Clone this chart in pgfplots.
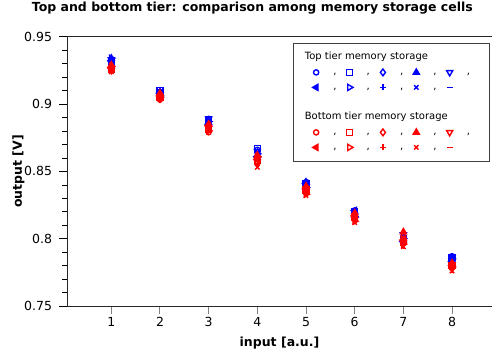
\documentclass[border=0pt]{standalone}
\usepackage{pgfplots}
\pgfplotsset{compat=1.18}
\usepackage{fontspec}
\setmainfont{DejaVu Sans}
\tikzset{
 s1/.style={color=#1, draw=#1, fill=#1, mark=o, mark size=2.6pt, line width=1.3pt, mark options={solid}},
 s2/.style={color=#1, draw=#1, fill=#1, mark=square, mark size=3.1pt, line width=1.3pt, mark options={solid}},
 s3/.style={color=#1, draw=#1, fill=#1, mark=diamond, mark size=3.4pt, line width=1.3pt, mark options={solid}},
 s4/.style={color=#1, draw=#1, fill=#1, mark=triangle*, mark size=3.5pt, line width=1.3pt, mark options={solid}},
 s5/.style={color=#1, draw=#1, fill=#1, mark=triangle, mark size=3.5pt, line width=1.3pt, mark options={solid, rotate=180}},
 s6/.style={color=#1, draw=#1, fill=#1, mark=triangle*, mark size=3.5pt, line width=1.3pt, mark options={solid, rotate=90}},
 s7/.style={color=#1, draw=#1, fill=#1, mark=triangle, mark size=3.5pt, line width=1.3pt, mark options={solid, rotate=-90}},
 s8/.style={color=#1, draw=#1, fill=#1, mark=+, mark size=3.1pt, line width=1.4pt, mark options={solid}},
 s9/.style={color=#1, draw=#1, fill=#1, mark=x, mark size=3.1pt, line width=1.4pt, mark options={solid}},
 s10/.style={color=#1, draw=#1, fill=#1, mark=-, mark size=3.1pt, line width=1.5pt, mark options={solid}},
}
\begin{document}
\begin{tikzpicture}
\begin{axis}[
  scale only axis, width=424pt, height=269.3pt,
  xmin=0.1, xmax=8.81, ymin=0.75, ymax=0.95,
  axis x line*=bottom, axis y line*=left,
  xtick={1,2,3,4,5,6,7,8},
  ytick={0.75,0.8,0.85,0.9,0.95},
  minor y tick num=4,
  tick align=outside,
  major tick length=8pt, minor tick length=5pt,
  xtick style={color=black!50, line width=1pt},
  ytick style={black, line width=0.6pt},
  axis line style={line width=0.8pt, black!85},
  /pgf/number format/assume math mode=true,
  ticklabel style={font=\fontsize{12.5}{15}\selectfont},
  yticklabel style={xshift=-4pt},
  title={Top and bottom tier: comparison among memory storage cells},
  title style={at={(axis description cs:0.436,1)}, anchor=center, yshift=22.7pt, font=\bfseries\fontsize{12.5}{15}\selectfont},
  xlabel={input [a.u.]},
  xlabel style={at={(axis description cs:0.5,0)}, anchor=center, yshift=-37pt, font=\bfseries\fontsize{12.5}{15}\selectfont},
  ylabel={output [V]},
  ylabel style={at={(axis description cs:-0.1156,0.5)}, anchor=center, rotate=0, font=\bfseries\fontsize{12.5}{15}\selectfont},
  legend columns=5,
  legend style={at={(0.532,1)}, anchor=north west, yshift=-6.3pt, draw=black!75, line width=0.8pt,
    inner xsep=18pt, inner ysep=8pt, column sep=0pt, row sep=3pt,
    /tikz/every even column/.append style={column sep=7.4pt},
    font=\fontsize{10}{12}\selectfont,
    nodes={inner sep=1pt, text height=7.5pt, text depth=2.5pt},
    cells={anchor=west}},
  legend image post style={line width=1.4pt},
  legend image code/.code={\draw[#1] plot[only marks] coordinates {(4pt,0pt)}; \path (0pt,0pt) (19.4pt,0pt);},
  extra description/.code={
    \draw[line width=0.8pt, black!85] (rel axis cs:0,1) -- (rel axis cs:1,1);
    \coordinate (bl) at (rel axis cs:0,0);
    \coordinate (tr) at (rel axis cs:1,1);
  },
]
% Top tier (blue)
\addplot[only marks, forget plot, s1=blue] coordinates {(1,0.933) (2,0.909) (3,0.889) (4,0.866) (5,0.842) (6,0.821) (7,0.801) (8,0.787)};
\addplot[only marks, forget plot, s2=blue] coordinates {(1,0.932) (2,0.910) (3,0.888) (4,0.867) (5,0.841) (6,0.820) (7,0.800) (8,0.786)};
\addplot[only marks, forget plot, s3=blue] coordinates {(1,0.931) (2,0.908) (3,0.887) (4,0.864) (5,0.840) (6,0.819) (7,0.802) (8,0.785)};
\addplot[only marks, forget plot, s4=blue] coordinates {(1,0.934) (2,0.909) (3,0.886) (4,0.862) (5,0.842) (6,0.818) (7,0.799) (8,0.784)};
\addplot[only marks, forget plot, s5=blue] coordinates {(1,0.933) (2,0.907) (3,0.889) (4,0.865) (5,0.839) (6,0.817) (7,0.803) (8,0.786)};
\addplot[only marks, forget plot, s6=blue] coordinates {(1,0.932) (2,0.908) (3,0.885) (4,0.861) (5,0.841) (6,0.821) (7,0.798) (8,0.783)};
\addplot[only marks, forget plot, s7=blue] coordinates {(1,0.934) (2,0.906) (3,0.887) (4,0.863) (5,0.838) (6,0.816) (7,0.800) (8,0.785)};
\addplot[only marks, forget plot, s8=blue] coordinates {(1,0.931) (2,0.909) (3,0.886) (4,0.860) (5,0.840) (6,0.819) (7,0.797) (8,0.787)};
\addplot[only marks, forget plot, s9=blue] coordinates {(1,0.930) (2,0.907) (3,0.884) (4,0.862) (5,0.839) (6,0.815) (7,0.801) (8,0.782)};
\addplot[only marks, forget plot, s10=blue] coordinates {(1,0.932) (2,0.908) (3,0.888) (4,0.859) (5,0.837) (6,0.818) (7,0.796) (8,0.784)};
% Bottom tier (red)
\addplot[only marks, forget plot, s1=red] coordinates {(1,0.927) (2,0.906) (3,0.879) (4,0.856) (5,0.834) (6,0.815) (7,0.800) (8,0.779)};
\addplot[only marks, forget plot, s2=red] coordinates {(1,0.926) (2,0.905) (3,0.881) (4,0.858) (5,0.836) (6,0.816) (7,0.798) (8,0.780)};
\addplot[only marks, forget plot, s3=red] coordinates {(1,0.928) (2,0.907) (3,0.883) (4,0.860) (5,0.838) (6,0.818) (7,0.802) (8,0.781)};
\addplot[only marks, forget plot, s4=red] coordinates {(1,0.929) (2,0.908) (3,0.885) (4,0.862) (5,0.839) (6,0.819) (7,0.805) (8,0.782)};
\addplot[only marks, forget plot, s5=red] coordinates {(1,0.925) (2,0.904) (3,0.882) (4,0.857) (5,0.835) (6,0.814) (7,0.797) (8,0.778)};
\addplot[only marks, forget plot, s6=red] coordinates {(1,0.927) (2,0.906) (3,0.884) (4,0.859) (5,0.837) (6,0.817) (7,0.799) (8,0.780)};
\addplot[only marks, forget plot, s7=red] coordinates {(1,0.928) (2,0.905) (3,0.880) (4,0.861) (5,0.833) (6,0.813) (7,0.796) (8,0.779)};
\addplot[only marks, forget plot, s8=red] coordinates {(1,0.926) (2,0.903) (3,0.882) (4,0.858) (5,0.836) (6,0.815) (7,0.795) (8,0.777)};
\addplot[only marks, forget plot, s9=red] coordinates {(1,0.924) (2,0.903) (3,0.881) (4,0.853) (5,0.832) (6,0.812) (7,0.794) (8,0.776)};
\addplot[only marks, forget plot, s10=red] coordinates {(1,0.925) (2,0.904) (3,0.880) (4,0.855) (5,0.834) (6,0.814) (7,0.797) (8,0.778)};
% Legend
\addlegendimage{empty legend}\addlegendentry{\rlap{\hspace*{-28.4pt}Top tier memory storage}}
\addlegendimage{empty legend}\addlegendentry{}
\addlegendimage{empty legend}\addlegendentry{}
\addlegendimage{empty legend}\addlegendentry{}
\addlegendimage{empty legend}\addlegendentry{}
\addlegendimage{s1=blue}\addlegendentry{,}
\addlegendimage{s2=blue}\addlegendentry{,}
\addlegendimage{s3=blue}\addlegendentry{,}
\addlegendimage{s4=blue}\addlegendentry{,}
\addlegendimage{s5=blue}\addlegendentry{,}
\addlegendimage{s6=blue}\addlegendentry{,}
\addlegendimage{s7=blue}\addlegendentry{,}
\addlegendimage{s8=blue}\addlegendentry{,}
\addlegendimage{s9=blue}\addlegendentry{,}
\addlegendimage{s10=blue}\addlegendentry{}
\addlegendimage{empty legend}\addlegendentry{}
\addlegendimage{empty legend}\addlegendentry{}
\addlegendimage{empty legend}\addlegendentry{}
\addlegendimage{empty legend}\addlegendentry{}
\addlegendimage{empty legend}\addlegendentry{}
\addlegendimage{empty legend}\addlegendentry{\rlap{\hspace*{-28.4pt}Bottom tier memory storage}}
\addlegendimage{empty legend}\addlegendentry{}
\addlegendimage{empty legend}\addlegendentry{}
\addlegendimage{empty legend}\addlegendentry{}
\addlegendimage{empty legend}\addlegendentry{}
\addlegendimage{s1=red}\addlegendentry{,}
\addlegendimage{s2=red}\addlegendentry{,}
\addlegendimage{s3=red}\addlegendentry{,}
\addlegendimage{s4=red}\addlegendentry{,}
\addlegendimage{s5=red}\addlegendentry{,}
\addlegendimage{s6=red}\addlegendentry{,}
\addlegendimage{s7=red}\addlegendentry{,}
\addlegendimage{s8=red}\addlegendentry{,}
\addlegendimage{s9=red}\addlegendentry{,}
\addlegendimage{s10=red}\addlegendentry{}
\end{axis}
\pgfresetboundingbox
\path[use as bounding box] ([xshift=-67.5pt,yshift=-45pt]bl) rectangle ([xshift=0.5pt,yshift=36.7pt]tr);
\end{tikzpicture}
\end{document}
